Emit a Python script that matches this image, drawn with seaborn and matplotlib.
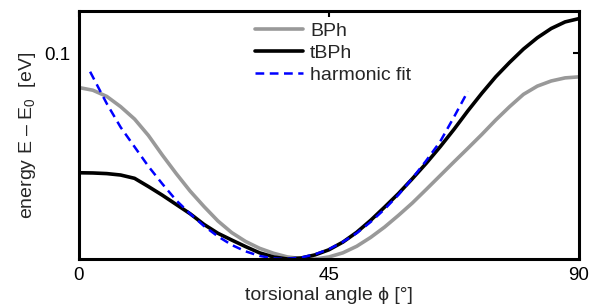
import matplotlib
matplotlib.use("Agg")
import matplotlib.pyplot as plt
import seaborn as sns
import pandas as pd

# ---- data ----
angle_bph = [0, 2.5, 5, 7.5, 10, 12.5, 15, 17.5, 20, 22.5, 25, 27.5, 30, 32.5, 35, 37.5, 40, 42.5,
             45, 47.5, 50, 52.5, 55, 57.5, 60, 62.5, 65, 67.5, 70, 72.5, 75, 77.5, 80, 82.5, 85, 87.5, 90]
energy_bph = [0.0833, 0.0820, 0.0790, 0.0740, 0.0680, 0.0600, 0.0505, 0.0415, 0.0330, 0.0255, 0.0185,
              0.0128, 0.0085, 0.0052, 0.0028, 0.0010, 0.0002, 0.0000, 0.0010, 0.0030, 0.0062, 0.0105,
              0.0155, 0.0212, 0.0272, 0.0338, 0.0405, 0.0472, 0.0538, 0.0605, 0.0675, 0.0740, 0.0800,
              0.0840, 0.0865, 0.0880, 0.0885]

angle_tbph = [0, 2.5, 5, 7.5, 10, 12.5, 15, 17.5, 20, 22.5, 25, 27.5, 30, 32.5, 35, 37.5, 40, 42.5,
              45, 47.5, 50, 52.5, 55, 57.5, 60, 62.5, 65, 67.5, 70, 72.5, 75, 77.5, 80, 82.5, 85, 87.5, 90]
energy_tbph = [0.0419, 0.0418, 0.0415, 0.0408, 0.0392, 0.0352, 0.0310, 0.0265, 0.0220, 0.0168, 0.0125,
               0.0092, 0.0060, 0.0030, 0.0010, 0.0000, 0.0005, 0.0020, 0.0045, 0.0082, 0.0130, 0.0188,
               0.0252, 0.0318, 0.0390, 0.0465, 0.0545, 0.0630, 0.0720, 0.0805, 0.0885, 0.0955, 0.1020,
               0.1075, 0.1120, 0.1152, 0.1168]

angle_fit = [2, 5, 7.5, 10, 12.5, 15, 17.5, 20, 22.5, 25, 27.5, 30, 32.5, 35, 37, 40, 42.5, 45,
             47.5, 50, 52.5, 55, 57.5, 60, 62.5, 65, 67.5, 70]
energy_fit = [0.0910, 0.0755, 0.0640, 0.0545, 0.0450, 0.0365, 0.0285, 0.0220, 0.0160, 0.0110, 0.0068,
              0.0037, 0.0015, 0.0003, 0.0000, 0.0007, 0.0023, 0.0048, 0.0083, 0.0126, 0.0180, 0.0242,
              0.0312, 0.0392, 0.0478, 0.0570, 0.0690, 0.0815]

xticks = [0, 45, 90]
yticks = [0.1]
ytick_labels = ["0.1"]

sns.set_theme(style="white")
plt.rcParams["font.family"] = ["Liberation Sans", "DejaVu Sans"]
plt.rcParams["mathtext.fontset"] = "custom"
plt.rcParams["mathtext.rm"] = "Liberation Sans"
plt.rcParams["mathtext.it"] = "Liberation Sans"

fig = plt.figure(figsize=(5.91, 3.08), dpi=100)
ax = fig.add_axes([79 / 591, 49 / 308, 500 / 591, 248 / 308])

df_bph = pd.DataFrame({"angle": angle_bph, "energy": energy_bph})
df_tbph = pd.DataFrame({"angle": angle_tbph, "energy": energy_tbph})
df_fit = pd.DataFrame({"angle": angle_fit, "energy": energy_fit})

sns.lineplot(data=df_bph, x="angle", y="energy", ax=ax, color="#999999", lw=2.6,
             label="BPh", solid_joinstyle="round")
sns.lineplot(data=df_tbph, x="angle", y="energy", ax=ax, color="black", lw=2.6,
             label="tBPh", solid_joinstyle="round")
sns.lineplot(data=df_fit, x="angle", y="energy", ax=ax, color="#0000ff", lw=1.8,
             label="harmonic fit", dashes=False, linestyle=(0, (3.5, 2.2)))

ax.set_xlim(0, 90)
ax.set_ylim(0, 0.1205)
ax.set_xticks(xticks)
ax.set_xticklabels([str(t) for t in xticks])
ax.set_yticks(yticks)
ax.set_yticklabels(ytick_labels)
ax.tick_params(direction="in", length=4, width=1.5, top=True, right=True, labelsize=13.5,
               colors="black")
ax.tick_params(axis="x", pad=6)
ax.tick_params(axis="y", pad=6)
for s in ax.spines.values():
    s.set_linewidth(2.2)
    s.set_color("black")

ax.set_xlabel("torsional angle \u03d5 [\u00b0]", fontsize=14, labelpad=2)
ax.set_ylabel("energy E \u2013 E$_0$  [eV]", fontsize=14, labelpad=5)

leg = ax.legend(loc="upper left", bbox_to_anchor=(0.352, 0.955), frameon=False, fontsize=14,
                handlelength=2.47, handletextpad=0.36, labelspacing=0.22, borderaxespad=0,
                borderpad=0)

fig.savefig("out.png", dpi=100)
